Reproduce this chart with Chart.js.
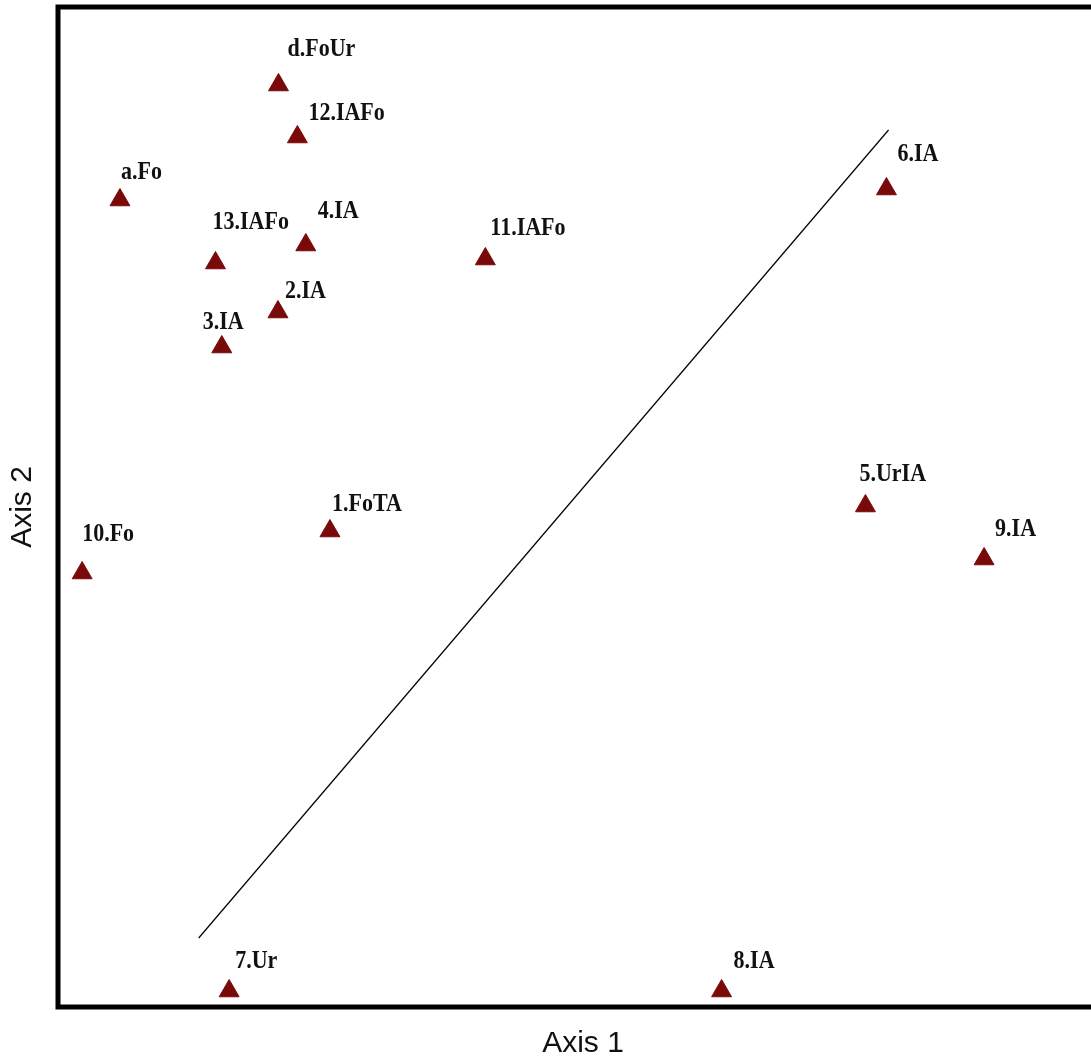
<!DOCTYPE html>
<html>
<head>
<meta charset="utf-8">
<script src="https://cdn.jsdelivr.net/npm/chart.js@4.4.1/dist/chart.umd.min.js"></script>
<style>
  html, body { margin: 0; padding: 0; background: #ffffff; overflow: hidden; }
  #wrap { width: 1091px; height: 1061px; overflow: hidden; }
  #c { display: block; }
</style>
</head>
<body>
<!-- the plot frame runs on past the right edge of the page, so the canvas is a little wider than its window -->
<div id="wrap"><canvas id="c" width="1108" height="1061"></canvas></div>
<script>
// Site scores on the two ordination axes
const siteLabels = ['1.FoTA', '2.IA', '3.IA', '4.IA', '5.UrIA', '6.IA', '7.Ur', '8.IA',
                    '9.IA', '10.Fo', '11.IAFo', '12.IAFo', '13.IAFo', 'a.Fo', 'd.FoUr'];
const axis1Scores = [25.9, 20.95, 15.6, 23.6, 76.9, 78.9, 16.3, 63.2,
                     88.2, 2.3, 40.7, 22.8, 15.0, 5.9, 21.0];
const axis2Scores = [47.6, 69.5, 66.0, 76.2, 50.1, 81.8, 1.6, 1.6,
                     44.8, 43.4, 74.8, 87.0, 74.4, 80.7, 92.2];

// Dividing line between the two site groups (end points)
const dividerAxis1 = [13.4, 79.1];
const dividerAxis2 = [6.9, 87.7];

// Pixel offset of each site label from its marker (left edge, vertical middle)
const labelOffsets = [[2, -26], [7, -20], [-19, -24], [12, -33], [-6, -31], [11, -34], [6, -29], [12, -29],
                      [11, -29], [0, -38], [5, -30], [11, -23], [-3, -40], [1, -27], [9, -35]];

const MARKER = '#7a0a0a';

const siteData = axis1Scores.map((x, i) => ({ x: x, y: axis2Scores[i] }));
const dividerData = dividerAxis1.map((x, i) => ({ x: x, y: dividerAxis2[i] }));

// Heavy frame on the top, left and bottom of the plot area
const framePlugin = {
  id: 'frame',
  afterDatasetsDraw(chart) {
    const { ctx, chartArea: a, width } = chart;
    ctx.save();
    ctx.strokeStyle = '#000000';
    ctx.lineWidth = 5;
    ctx.lineJoin = 'miter';
    ctx.beginPath();
    ctx.moveTo(width + 5, a.top);
    ctx.lineTo(a.left, a.top);
    ctx.lineTo(a.left, a.bottom);
    ctx.lineTo(width + 5, a.bottom);
    ctx.stroke();
    ctx.restore();
  }
};

// Site names written next to each marker
const siteLabelPlugin = {
  id: 'siteLabels',
  afterDatasetsDraw(chart) {
    const { ctx } = chart;
    const meta = chart.getDatasetMeta(1);
    ctx.save();
    ctx.font = 'bold 22px "Liberation Serif", "Times New Roman", serif';
    ctx.fillStyle = '#111111';
    ctx.textAlign = 'left';
    ctx.textBaseline = 'middle';
    meta.data.forEach((pt, i) => {
      const off = labelOffsets[i];
      ctx.save();
      ctx.translate(pt.x + off[0], pt.y + off[1]);
      ctx.scale(1.0, 1.1);
      ctx.fillText(siteLabels[i], 0, 0);
      ctx.restore();
    });
    ctx.restore();
  }
};

new Chart(document.getElementById('c'), {
  type: 'scatter',
  data: {
    datasets: [
      {
        label: 'divider',
        data: dividerData,
        showLine: true,
        borderColor: '#000000',
        borderWidth: 1.2,
        pointRadius: 0,
        fill: false
      },
      {
        label: 'sites',
        data: siteData,
        pointStyle: 'triangle',
        pointRadius: 11.5,
        backgroundColor: MARKER,
        borderColor: MARKER,
        borderWidth: 1
      }
    ]
  },
  options: {
    responsive: false,
    animation: false,
    devicePixelRatio: 1,
    layout: { autoPadding: false, padding: { top: 7, left: 0, right: 0, bottom: 0 } },
    plugins: {
      legend: { display: false },
      tooltip: { enabled: false }
    },
    scales: {
      x: {
        type: 'linear',
        min: 0,
        max: 100,
        ticks: { display: false },
        grid: { display: false },
        border: { display: false },
        title: {
          display: true,
          text: 'Axis 1',
          color: '#111111',
          font: { family: '"Liberation Sans", Arial, sans-serif', size: 30, lineHeight: 1 },
          padding: { top: 0, bottom: 2 }
        },
        afterFit(scale) { scale.height = 54; }
      },
      y: {
        type: 'linear',
        min: 0,
        max: 100,
        ticks: { display: false },
        grid: { display: false },
        border: { display: false },
        title: {
          display: true,
          text: 'Axis 2',
          color: '#111111',
          font: { family: '"Liberation Sans", Arial, sans-serif', size: 30, lineHeight: 1 },
          padding: { top: 8, bottom: 0 }
        },
        afterFit(scale) { scale.width = 58; }
      }
    }
  },
  plugins: [framePlugin, siteLabelPlugin]
});
</script>
</body>
</html>
